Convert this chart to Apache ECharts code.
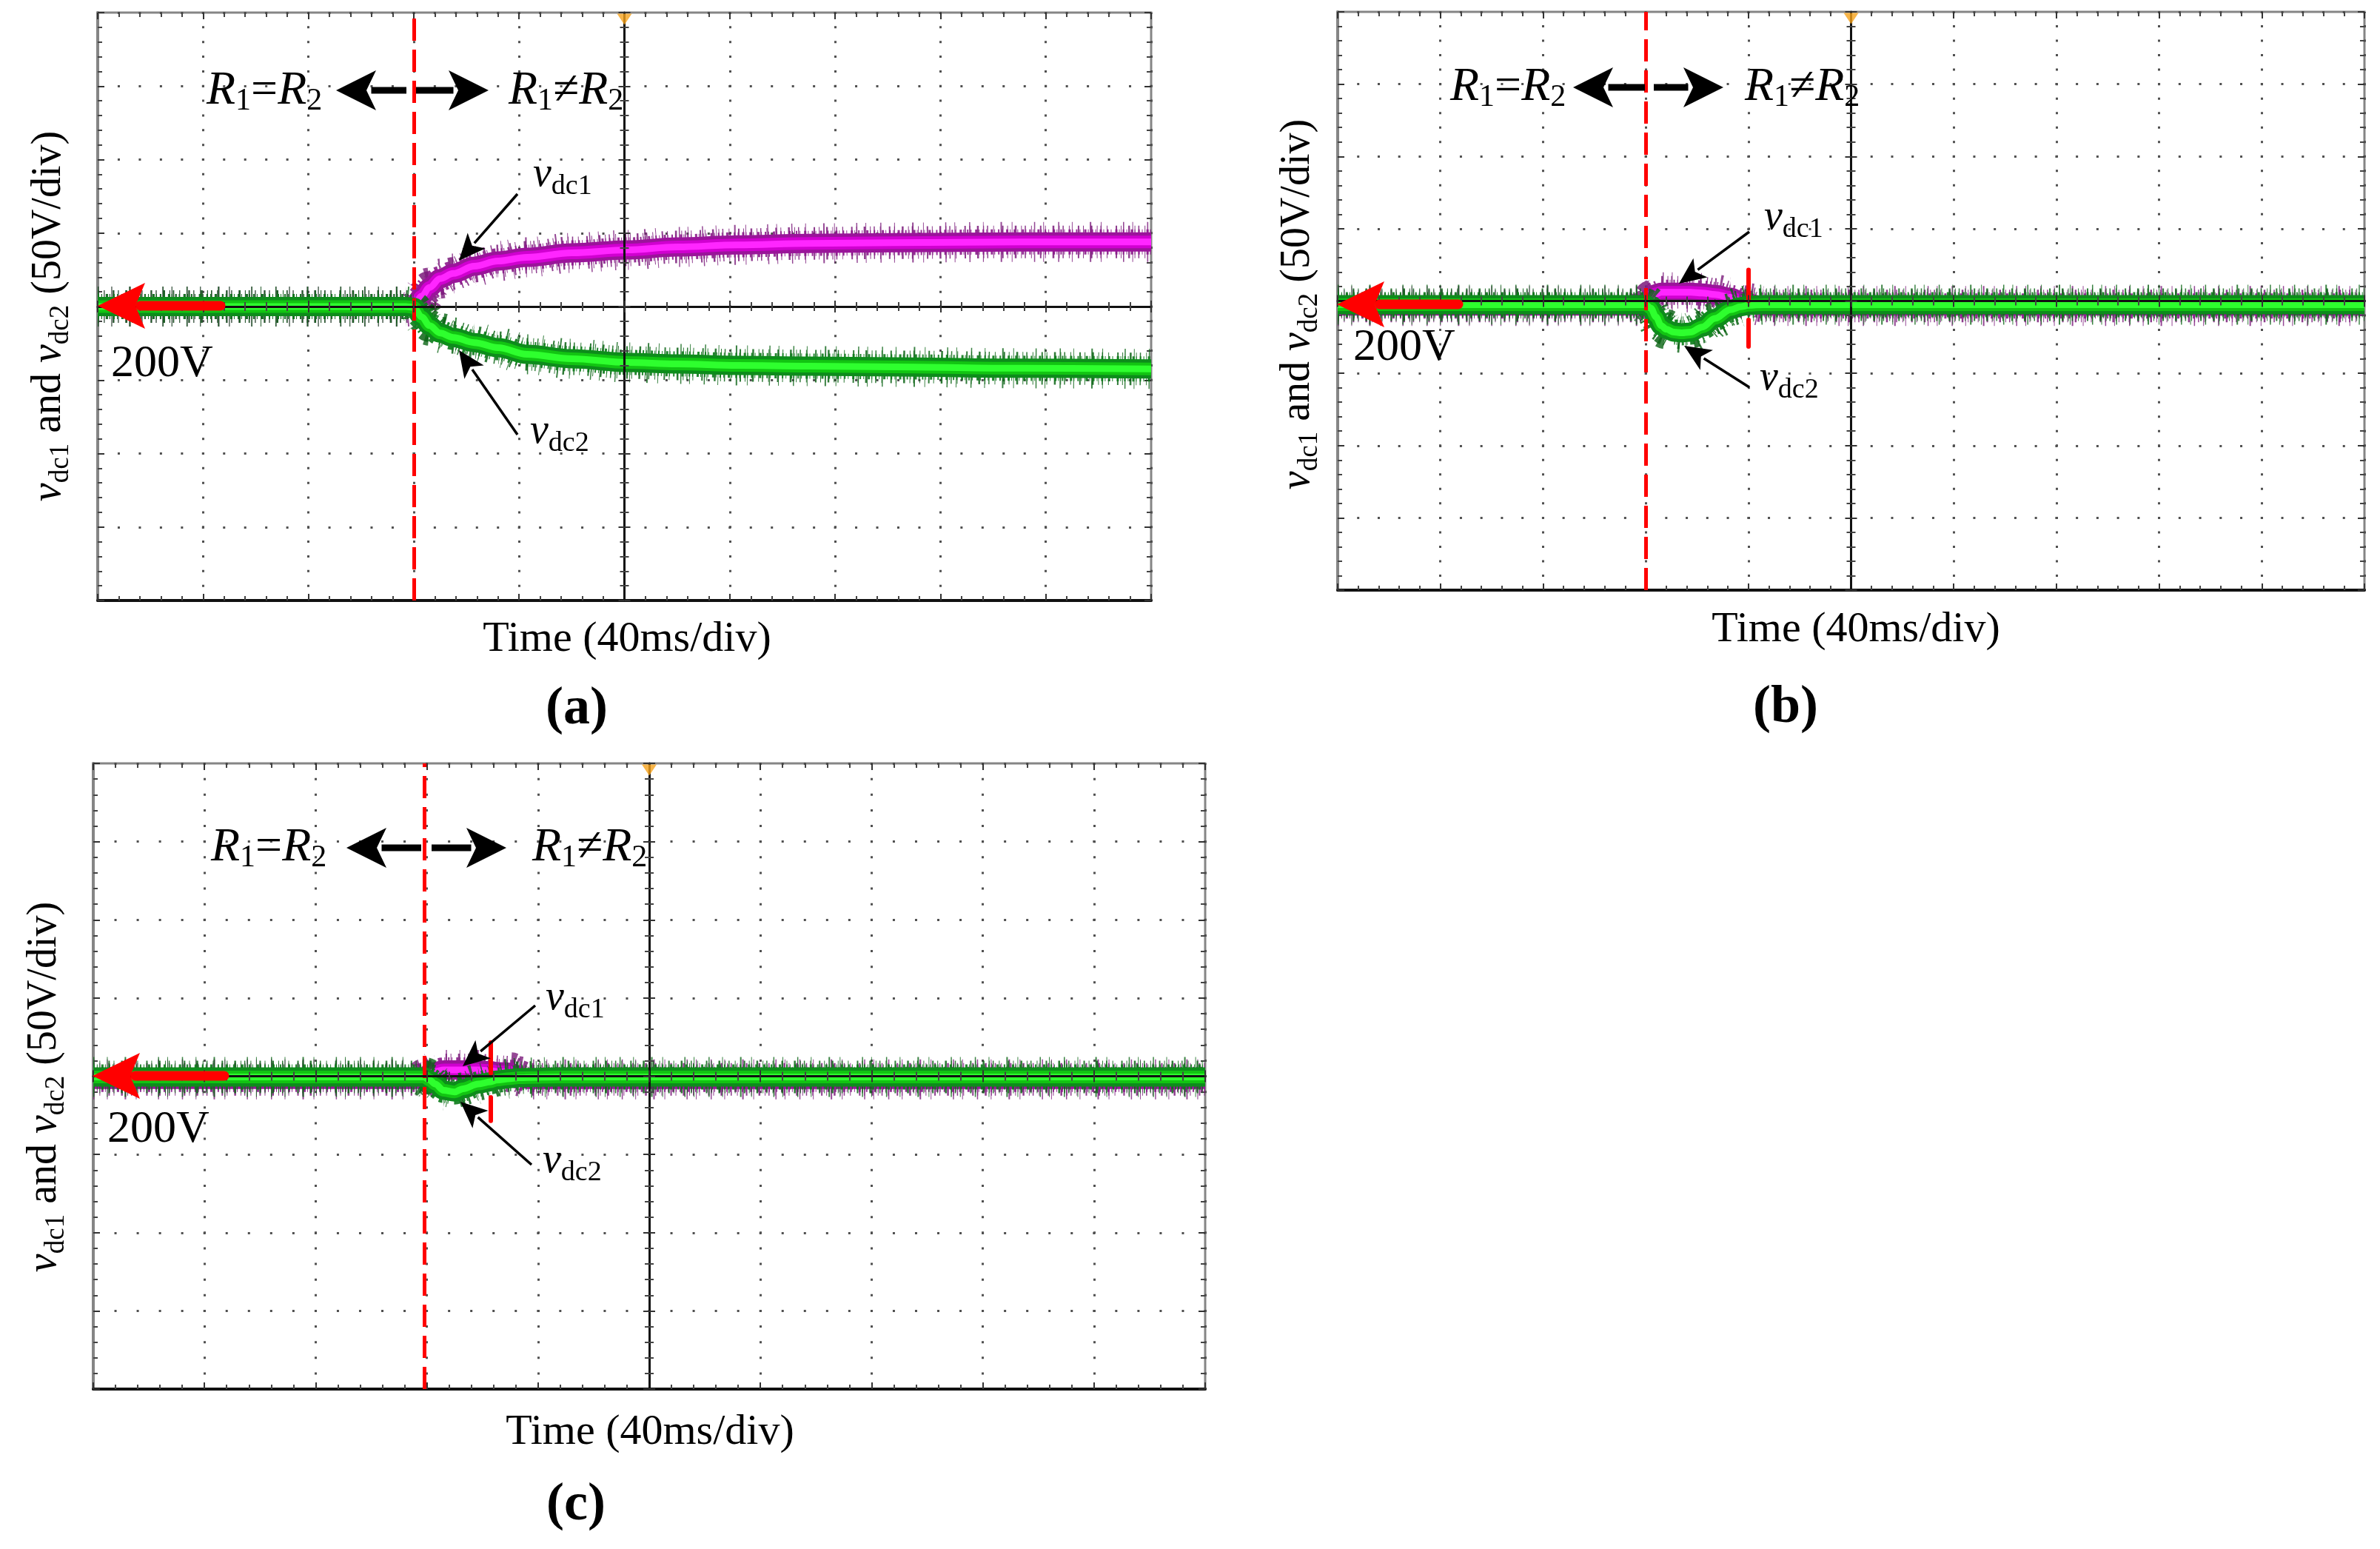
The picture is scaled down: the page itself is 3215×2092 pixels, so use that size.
<!DOCTYPE html>
<html><head><meta charset="utf-8">
<script src="https://cdn.jsdelivr.net/npm/echarts@6/dist/echarts.min.js"></script>
<style>html,body{margin:0;padding:0;background:#fff}#c{width:3215px;height:2092px}</style>
</head><body><div id="c"></div>
<script>
// ---------------- data (time in ms, voltage in V; 40 ms/div, 50 V/div) ----------------
const timeA = [0, 117, 120, 123, 126, 130, 135, 143, 152, 163, 180, 201, 220, 243, 270, 303, 350, 400];
const vdc1A = [200, 200, 200.5, 207, 213, 219, 222.5, 227.5, 231, 233.5, 236.5, 238.5, 240.5, 242, 243, 243.5, 244, 244];
const vdc2A = [200, 200, 199.5, 193, 187, 182, 179, 175.5, 172, 167.5, 164.5, 162, 161, 160, 159.5, 159, 158, 157.5];

const timeB = [0, 118, 120, 122, 124, 126, 128, 131, 134, 137.5, 142, 147, 153, 157, 160, 166, 200, 300, 400];
const vdc1B = [196.5, 196.5, 197, 203, 205, 206, 206, 206, 206, 206, 205.5, 204.5, 202.5, 200, 198.5, 196.5, 196.5, 196.5, 196.5];
const vdc2B = [197.5, 197.5, 197.5, 195, 189, 183, 180.5, 178.5, 178, 178.5, 182, 188, 194, 196, 197, 197.5, 197.5, 197.5, 197.5];

const timeC = [0, 117, 119, 121, 123, 126, 130, 133, 138.5, 143, 145, 150, 153, 156, 167, 200, 300, 400];
const vdc1C = [198, 198, 198.5, 202, 203, 204, 204, 204, 204, 203.5, 203, 202.5, 200, 198, 198, 198, 198, 198];
const vdc2C = [199.5, 199.5, 199.5, 197.5, 195, 191, 190, 192, 195, 196.5, 197.5, 198.5, 199, 199.2, 199.5, 199.5, 199.5, 199.5];

const eventT = [120, 120, 119];            // R1=R2 -> R1!=R2 switching instant
const cursorT = [null, 160, 143];          // short red cursor marks
const cursorSegs = [[], [[221.5, 200], [187, 168.5]], [[221.5, 202], [186.5, 171.5]]];
const triggerT = 200;                      // trigger marker (orange)
const timeRange = [0, 400], timeStep = 40;
const voltRange = [0, 400], voltStep = 50;
const levelText = '200V';
const panelNames = ['(a)', '(b)', '(c)'];
const xTitle = 'Time (40ms/div)';

// ---------------- layout ----------------
const SERIF = '"Liberation Serif","Times New Roman",serif';
const panels = [
  {left: 132, top: 17, width: 1423, height: 794},
  {left: 1807, top: 16, width: 1387, height: 781},
  {left: 126, top: 1031, width: 1502, height: 845}
];
const traces = [
  {t: timeA, v1: vdc1A, v2: vdc2A},
  {t: timeB, v1: vdc1B, v2: vdc2B},
  {t: timeC, v1: vdc1C, v2: vdc2C}
];

const grids = panels.map(p => ({left: p.left, top: p.top, width: p.width, height: p.height,
  show: true, borderColor: '#858585', borderWidth: 3, backgroundColor: 'transparent'}));

const xAxes = [], yAxes = [];
panels.forEach((p, gi) => {
  const xdiv = p.width / 10, ydiv = p.height / 8;
  const dotV = [3, ydiv / 5 - 3], dotH = [3, xdiv / 5 - 3];
  const bx = {type: 'value', gridIndex: gi, min: timeRange[0], max: timeRange[1], interval: timeStep,
    axisLabel: {show: false}, minorSplitLine: {show: false}};
  const by = {type: 'value', gridIndex: gi, min: voltRange[0], max: voltRange[1], interval: voltStep,
    axisLabel: {show: false}, minorSplitLine: {show: false}};
  const tick = (inside, len) => ({show: true, inside, length: len, lineStyle: {color: '#333', width: 2}});
  const minor = (len) => ({show: true, splitNumber: 5, length: len, lineStyle: {color: '#444', width: 2}});
  xAxes.push(Object.assign({}, bx, {position: 'bottom',
    axisLine: {show: true, onZero: false, lineStyle: {color: '#111', width: 4}},
    axisTick: tick(true, 9), minorTick: minor(6),
    splitLine: {show: true, lineStyle: {color: '#505050', width: 3, type: dotV, dashOffset: 1.5}}}));
  xAxes.push(Object.assign({}, bx, {position: 'top', axisLine: {show: false, onZero: false},
    axisTick: tick(true, 9), minorTick: minor(6), splitLine: {show: false}}));
  xAxes.push(Object.assign({}, bx, {position: 'top', offset: -p.height / 2, z: 5,
    axisLine: {show: true, onZero: false, lineStyle: {color: '#111', width: 3}},
    axisTick: tick(true, 8), minorTick: minor(6), splitLine: {show: false}}));
  xAxes.push(Object.assign({}, bx, {position: 'top', offset: -p.height / 2, z: 5,
    axisLine: {show: false, onZero: false},
    axisTick: tick(false, 8), minorTick: minor(6), splitLine: {show: false}}));

  yAxes.push(Object.assign({}, by, {position: 'left',
    axisLine: {show: true, onZero: false, lineStyle: {color: '#858585', width: 4}},
    axisTick: tick(true, 9), minorTick: minor(6),
    splitLine: {show: true, lineStyle: {color: '#505050', width: 3, type: dotH, dashOffset: 1.5}}}));
  yAxes.push(Object.assign({}, by, {position: 'right', axisLine: {show: false, onZero: false},
    axisTick: tick(true, 9), minorTick: minor(6), splitLine: {show: false}}));
  yAxes.push(Object.assign({}, by, {position: 'left', offset: -p.width / 2, z: 5,
    axisLine: {show: true, onZero: false, lineStyle: {color: '#111', width: 3}},
    axisTick: tick(true, 8), minorTick: minor(6), splitLine: {show: false}}));
  yAxes.push(Object.assign({}, by, {position: 'left', offset: -p.width / 2, z: 5,
    axisLine: {show: false, onZero: false},
    axisTick: tick(false, 8), minorTick: minor(6), splitLine: {show: false}}));
});

// trace look: several stacked strokes (irregular spiky fringe, dark band, bright core)
const layers = [
  {k: 'spike', w: 54, dash: [1.5, 17, 1, 23, 2, 13, 1, 29, 1.5, 11, 1, 19], op: 0.8},
  {k: 'spike', w: 44, dash: [1.5, 7, 1, 11, 2, 5, 1, 9, 2.5, 6, 1, 4], op: 0.85},
  {k: 'fringe', w: 34, dash: [2, 3, 1, 5, 3, 2, 1, 4], op: 0.9},
  {k: 'band', w: 26, op: 1},
  {k: 'mid', w: 17, op: 1},
  {k: 'core', w: 9, op: 1}
];
const palette = {
  v1: {spike: '#7a1a7a', fringe: '#8a1a8a', band: '#9a149a', mid: '#d000d0', core: '#ff26ff'},
  v2: {spike: '#0a6414', fringe: '#0b7a18', band: '#0d8c1b', mid: '#12c412', core: '#2eff2e'}
};

const series = [];
traces.forEach((tr, gi) => {
  const xi = gi * 4, yi = gi * 4;
  ['v1', 'v2'].forEach((key) => {
    const pts = tr.t.map((t, i) => [t, tr[key][i]]);
    layers.forEach((L, li) => {
      const s = {type: 'line', xAxisIndex: xi, yAxisIndex: yi, data: pts, showSymbol: false, symbol: 'none',
        smooth: 0.35, smoothMonotone: 'x', silent: true, animation: false, z: 2,
        lineStyle: {color: palette[key][L.k], width: L.w, opacity: L.op, type: L.dash || 'solid', cap: 'butt', join: 'round'}};
      if (key === 'v2' && li === layers.length - 1) {
        const md = [{xAxis: eventT[gi], lineStyle: {color: '#ff0000', width: 5, type: [30, 12]}}];
        cursorSegs[gi].forEach(seg => {
          const ls = {color: '#ff0000', width: 6, type: 'solid', cap: 'round'};
          md.push([{coord: [cursorT[gi], seg[0]], lineStyle: ls}, {coord: [cursorT[gi], seg[1]], lineStyle: ls}]);
        });
        s.markLine = {silent: true, animation: false, symbol: ['none', 'none'], label: {show: false}, data: md};
      }
      series.push(s);
    });
  });
  series.push({type: 'scatter', xAxisIndex: xi, yAxisIndex: yi, data: [[triggerT, voltRange[1]]], clip: false,
    symbol: 'triangle', symbolRotate: 180, symbolSize: [20, 15], symbolOffset: [0, 9], silent: true, z: 6,
    itemStyle: {color: '#f6a21c'}});
});

// ---------------- annotations ----------------
function richSet(main, sub, pad) {
  return {
    i: {fontFamily: SERIF, fontStyle: 'italic', fontSize: main, lineHeight: main, verticalAlign: 'top', fill: '#000'},
    n: {fontFamily: SERIF, fontSize: main, lineHeight: main, verticalAlign: 'top', fill: '#000'},
    s: {fontFamily: SERIF, fontSize: sub, lineHeight: sub, verticalAlign: 'top', padding: [pad, 0, 0, 0], fill: '#000'}
  };
}
function rtext(x, y, text, rich, align, valign, rot) {
  return {type: 'text', x, y, rotation: rot || 0, z: 100, silent: true,
    style: {text, rich, fontFamily: SERIF, fill: '#000', align: align || 'left', verticalAlign: valign || 'top'}};
}
function ptext(x, y, text, size, align, valign, weight) {
  return {type: 'text', x, y, z: 100, silent: true,
    style: {text, fontFamily: SERIF, fontSize: size, lineHeight: size, fontWeight: weight || 'normal', fill: '#000',
      align: align || 'left', verticalAlign: valign || 'top'}};
}
function head(tx, ty, fx, fy, len, hw, notch, color) {
  const dx = tx - fx, dy = ty - fy, L = Math.hypot(dx, dy), ux = dx / L, uy = dy / L, px = -uy, py = ux;
  const bx = tx - ux * len, by = ty - uy * len;
  const nx = tx - ux * (len - notch), ny = ty - uy * (len - notch);
  return {type: 'polygon', z: 101, silent: true,
    shape: {points: [[tx, ty], [bx + px * hw, by + py * hw], [nx, ny], [bx - px * hw, by - py * hw]]},
    style: {fill: color}};
}
function arrow(fx, fy, tx, ty, o) {
  const dx = tx - fx, dy = ty - fy, L = Math.hypot(dx, dy), ux = dx / L, uy = dy / L;
  const ex = tx - ux * (o.len - o.notch * 0.5), ey = ty - uy * (o.len - o.notch * 0.5);
  return [
    {type: 'line', z: 100, silent: true, shape: {x1: fx, y1: fy, x2: ex, y2: ey},
      style: {stroke: o.color, lineWidth: o.w, lineCap: o.cap || 'butt'}},
    head(tx, ty, fx, fy, o.len, o.hw, o.notch, o.color)
  ];
}
const bigArrow = {color: '#000', w: 9, len: 54, hw: 27, notch: 13};
const smallArrow = {color: '#000', w: 3.5, len: 36, hw: 16, notch: 9};
const redArrow = {color: '#ff0000', w: 13, len: 64, hw: 31, notch: 13, cap: 'round'};

const rR = richSet(64, 42, 25);
const rV = richSet(56, 38, 25);
const rY = richSet(56, 37, 26);
const txtEq = '{i|R}{s|1}{n|=}{i|R}{s|2}';
const txtNe = '{i|R}{s|1}{n|\u2260}{i|R}{s|2}';
const txtV1 = '{i|v}{s|dc1}';
const txtV2 = '{i|v}{s|dc2}';
const txtY = '{i|v}{s|dc1}{n| and }{i|v}{s|dc2}{n| (50V/div)}';

const ann = [
  { // (a)
    eq: [279, 91], ne: [687, 91], arrY: 122, arrL: [549, 454], arrR: [562, 660],
    v1: [720, 208], v1a: [699, 262, 620, 352], v2: [716, 555], v2a: [699, 587, 620, 473],
    lvl: [150, 461], red: [298, 413, 132], ylab: [66, 427], xlab: [847, 864], name: [779, 958]
  },
  { // (b)
    eq: [1959, 86], ne: [2357, 86], arrY: 118, arrL: [2222, 2125], arrR: [2234, 2328],
    v1: [2383, 266], v1a: [2363, 313, 2268, 383], v2: [2377, 483], v2a: [2363, 523, 2275, 467],
    lvl: [1828, 439], red: [1970, 411, 1806], ylab: [1753, 411], xlab: [2507, 851], name: [2412, 956]
  },
  { // (c)
    eq: [285, 1113], ne: [719, 1113], arrY: 1145, arrL: [569, 468], arrR: [583, 684],
    v1: [737, 1320], v1a: [723, 1358, 625, 1440], v2: [733, 1540], v2a: [718, 1573, 622, 1488],
    lvl: [145, 1495], red: [303, 1453, 125], ylab: [60, 1468], xlab: [878, 1935], name: [778, 2033]
  }
];
const graphics = [];
ann.forEach((a, gi) => {
  graphics.push(rtext(a.eq[0], a.eq[1], txtEq, rR));
  graphics.push(rtext(a.ne[0], a.ne[1], txtNe, rR));
  graphics.push(...arrow(a.arrL[0], a.arrY, a.arrL[1], a.arrY, bigArrow));
  graphics.push(...arrow(a.arrR[0], a.arrY, a.arrR[1], a.arrY, bigArrow));
  graphics.push(rtext(a.v1[0], a.v1[1], txtV1, rV));
  graphics.push(...arrow(a.v1a[0], a.v1a[1], a.v1a[2], a.v1a[3], smallArrow));
  graphics.push(rtext(a.v2[0], a.v2[1], txtV2, rV));
  graphics.push(...arrow(a.v2a[0], a.v2a[1], a.v2a[2], a.v2a[3], smallArrow));
  graphics.push(ptext(a.lvl[0], a.lvl[1], levelText, 62));
  graphics.push(...arrow(a.red[0], a.red[1], a.red[2], a.red[1], redArrow));
  graphics.push(rtext(a.ylab[0], a.ylab[1], txtY, rY, 'center', 'middle', Math.PI / 2));
  graphics.push(ptext(a.xlab[0], a.xlab[1], xTitle, 58, 'center', 'middle'));
  graphics.push(ptext(a.name[0], a.name[1], panelNames[gi], 72, 'center', 'middle', 'bold'));
});

const chart = echarts.init(document.getElementById('c'), null, {renderer: 'canvas', width: 3215, height: 2092});
chart.setOption({
  backgroundColor: '#ffffff',
  animation: false,
  grid: grids,
  xAxis: xAxes,
  yAxis: yAxes,
  series: series,
  graphic: {elements: graphics}
});
</script>
</body></html>
